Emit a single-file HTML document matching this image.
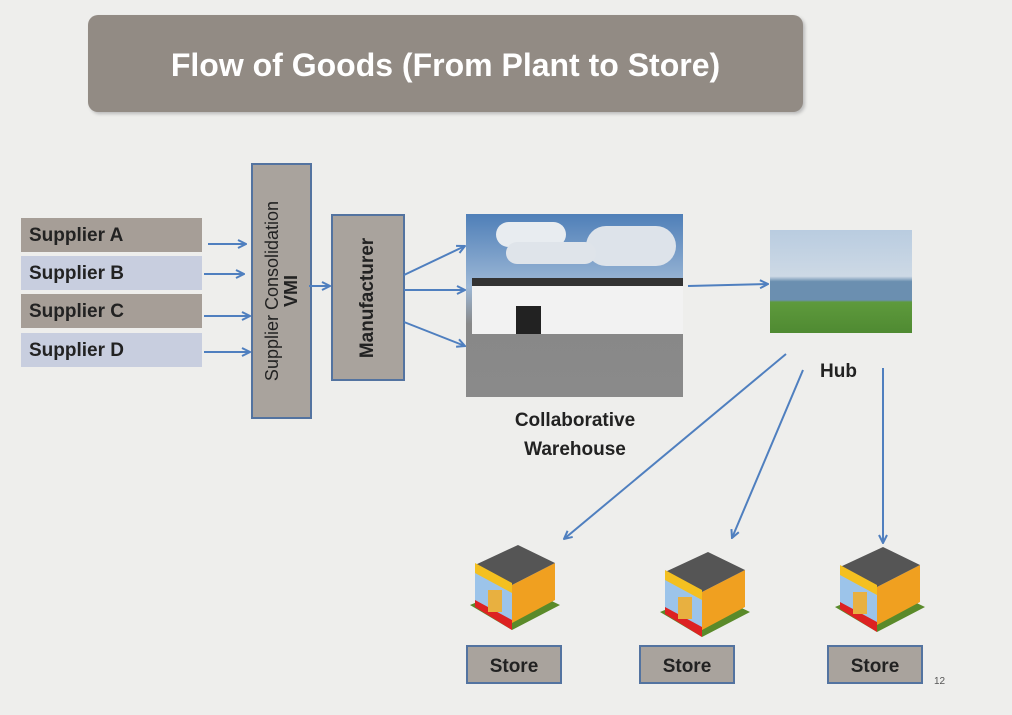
<!DOCTYPE html>
<html><head><style>
body{margin:0;width:1012px;height:715px;background:#eeeeec;position:relative;overflow:hidden;font-family:"Liberation Sans",sans-serif}
.a{position:absolute}
.title{left:88px;top:15px;width:715px;height:97px;background:#928b84;border-radius:10px;color:#fff;font-size:32px;font-weight:bold;text-align:center;line-height:100px;box-shadow:2px 2px 3px #bbb}
.sup{left:21px;width:181px;height:34px;font-weight:bold;font-size:19px;color:#222;line-height:36px;padding-left:8px;box-sizing:border-box}
.g{background:#a69e97}.b{background:#c8cedf}
.vb{background:#a9a39d;border:2px solid #5373a0;box-sizing:border-box}
.vt{position:absolute;left:50%;top:50%;transform:translate(-50%,-50%) rotate(-90deg);white-space:nowrap;font-weight:bold;color:#222;text-align:center}
.st{width:96px;height:39px;line-height:39px;text-align:center;font-weight:bold;font-size:19px;color:#222;top:645px}
.lbl{font-weight:bold;font-size:19px;color:#222;text-align:center}
</style></head><body>
<div class="a title">Flow of Goods (From Plant to Store)</div>
<div class="a sup g" style="top:218px">Supplier A</div>
<div class="a sup b" style="top:256px">Supplier B</div>
<div class="a sup g" style="top:294px">Supplier C</div>
<div class="a sup b" style="top:333px">Supplier D</div>
<div class="a vb" style="left:251px;top:163px;width:61px;height:256px"><div class="vt" style="font-size:18px;font-weight:normal;line-height:19px">Supplier Consolidation<br><b>VMI</b></div></div>
<div class="a vb" style="left:331px;top:214px;width:74px;height:167px"><div class="vt" style="font-size:19px">Manufacturer</div></div>
<div class="a" style="left:466px;top:214px;width:217px;height:183px;background:linear-gradient(#4f7fb8,#9db8d6 40%,#888 60%,#8a8a8a)">
<div class="a" style="left:30px;top:8px;width:70px;height:25px;background:#e8ecf0;border-radius:15px"></div>
<div class="a" style="left:120px;top:12px;width:90px;height:40px;background:#dde3ea;border-radius:20px"></div>
<div class="a" style="left:40px;top:28px;width:90px;height:22px;background:#dfe4ea;border-radius:12px"></div>
<div class="a" style="left:6px;top:70px;width:211px;height:50px;background:#f2f2f2"></div>
<div class="a" style="left:6px;top:64px;width:211px;height:8px;background:#333"></div>
<div class="a" style="left:50px;top:92px;width:25px;height:28px;background:#222"></div>
</div>
<div class="a" style="left:770px;top:230px;width:142px;height:103px;background:linear-gradient(#b9cce0 0,#cdd9e5 45%,#6b8fb0 50%,#6b8fb0 68%,#5e9a3c 70%,#4f8a32)"></div>
<div class="a lbl" style="left:480px;top:406px;width:190px;line-height:29px">Collaborative<br>Warehouse</div>
<div class="a lbl" style="left:820px;top:361px">Hub</div>
<svg class="a" style="left:0;top:0" width="1012" height="715">
<defs><marker id="m" markerWidth="10" markerHeight="10" refX="9" refY="5" orient="auto" markerUnits="userSpaceOnUse"><path d="M1,1 L9,5 L1,9" fill="none" stroke="#4f7fbf" stroke-width="2"/></marker>
<g id="shop">
<polygon points="0,60 42,85 90,60 48,40" fill="#5a8a2a"/>
<polygon points="5,50 42,72 42,85 5,62" fill="#d22"/>
<polygon points="5,20 42,40 42,75 5,55" fill="#9cc4ea"/>
<polygon points="42,40 85,18 85,55 42,78" fill="#f0a020"/>
<polygon points="5,20 42,40 85,18 48,0" fill="#555"/>
<polygon points="5,18 42,38 42,48 5,28" fill="#f4c020"/>
<rect x="18" y="45" width="14" height="22" fill="#e8b040"/>
</g></defs>
<g stroke="#4f7fbf" stroke-width="2" fill="none" marker-end="url(#m)">
<line x1="208" y1="244" x2="246" y2="244"/>
<line x1="204" y1="274" x2="244" y2="274"/>
<line x1="204" y1="316" x2="250" y2="316"/>
<line x1="204" y1="352" x2="250" y2="352"/>
<line x1="309" y1="286" x2="330" y2="286"/>
<line x1="404" y1="275" x2="465" y2="246"/>
<line x1="404" y1="290" x2="465" y2="290"/>
<line x1="404" y1="322" x2="465" y2="346"/>
<line x1="688" y1="286" x2="768" y2="284"/>
<line x1="786" y1="354" x2="564" y2="539"/>
<line x1="803" y1="370" x2="732" y2="538"/>
<line x1="883" y1="368" x2="883" y2="543"/>
</g>
<use href="#shop" transform="translate(470,545)"/>
<use href="#shop" transform="translate(660,552)"/>
<use href="#shop" transform="translate(835,547)"/>
</svg>
<div class="a vb st" style="left:466px">Store</div>
<div class="a vb st" style="left:639px">Store</div>
<div class="a vb st" style="left:827px">Store</div>
<div class="a" style="left:934px;top:676px;font-size:10px;color:#555">12</div>
</body></html>
